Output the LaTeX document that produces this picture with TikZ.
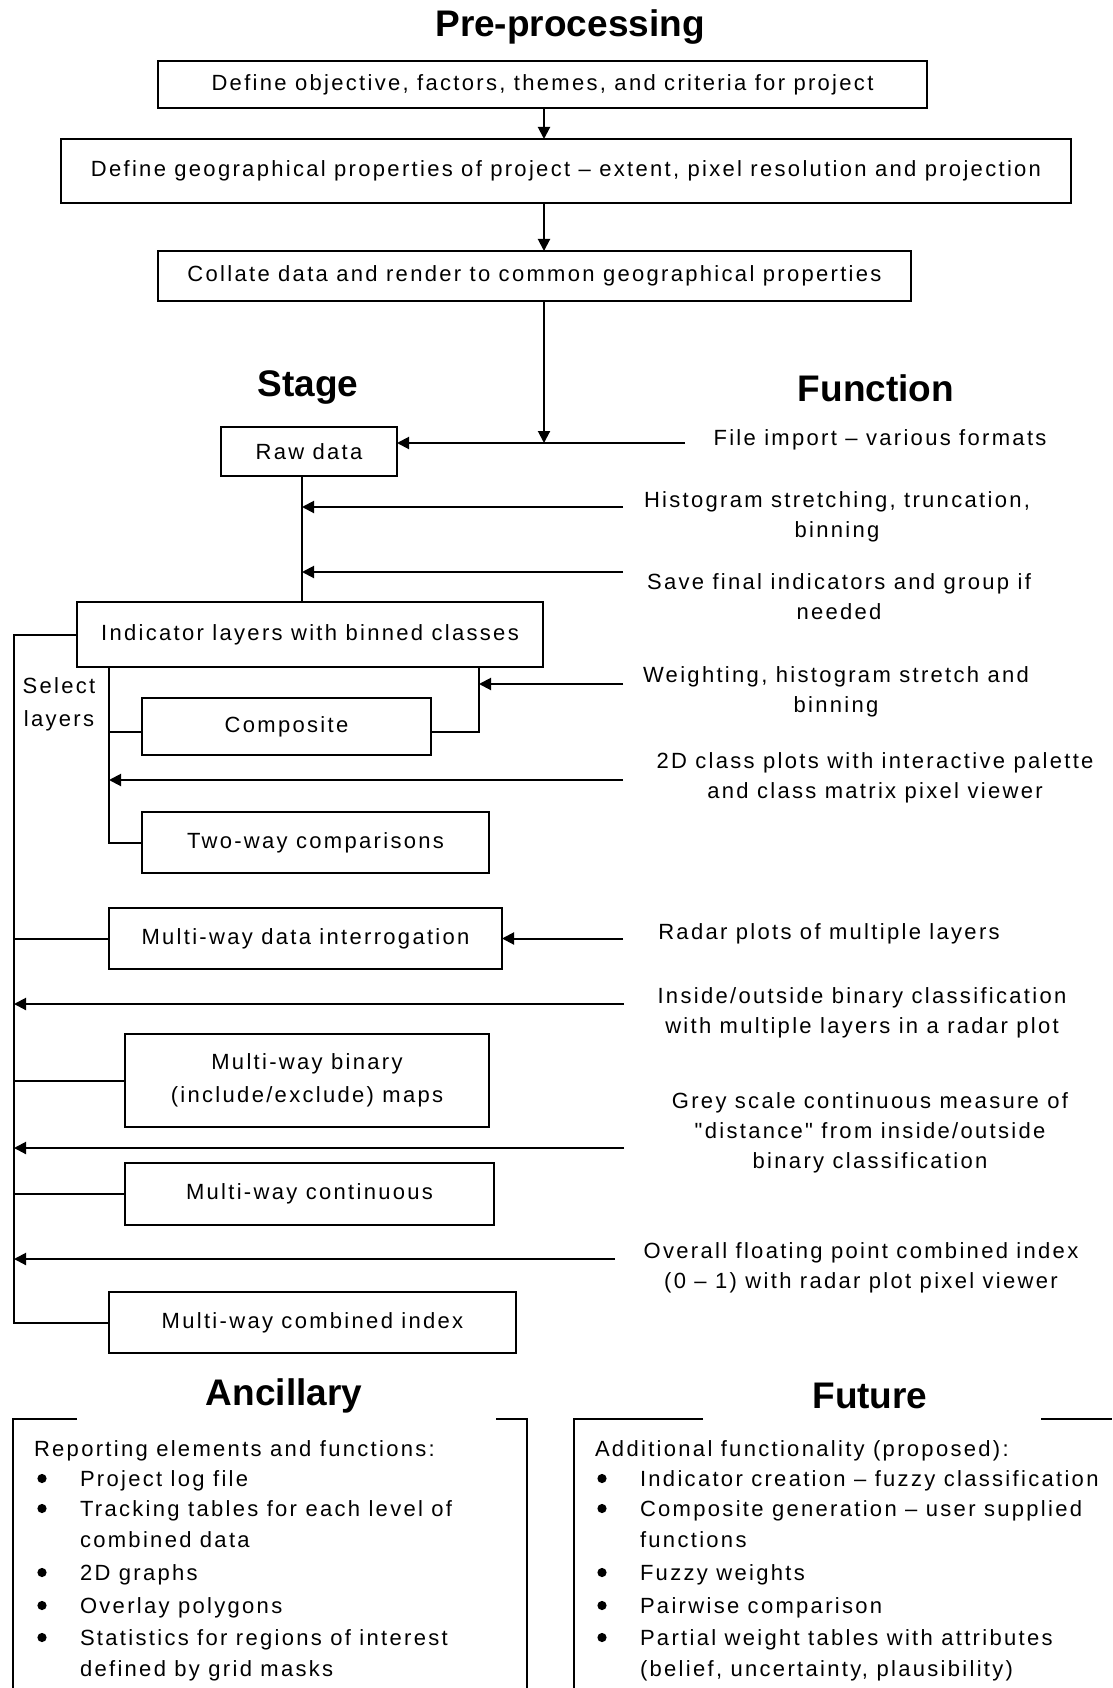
\documentclass[tikz,border=0pt]{standalone}
\usepackage{fontspec}
\setmainfont{Liberation Sans}[LetterSpace=10.5,Ligatures=TeXOff]
\newfontfamily\titlef{Liberation Sans}
\usetikzlibrary{arrows.meta}
\begin{document}
\begin{tikzpicture}[x=1pt,y=-1pt,
  every node/.style={inner sep=0pt,outer sep=0pt},
  txt/.style={font=\fontsize{22}{30}\selectfont,align=center},
  txtb/.style={font=\fontsize{22}{33}\selectfont,align=center},
  box/.style 2 args={draw,line width=2pt,minimum width=#1,minimum height=#2,txt},
  ttl/.style={font=\titlef\bfseries\fontsize{37}{40}\selectfont},
  lst/.style={font=\fontsize{22}{30}\selectfont,anchor=base west},
  bul/.style={fill=black},
  conn/.style={line width=2pt},
  thin/.style={line width=1.3pt},
  arr/.style={line width=2pt,-{Triangle[length=12pt,width=12pt]}},
  frame/.style={line width=1.6pt}]
\useasboundingbox (0,0) rectangle (1112,1688);

% ---------- pre-processing ----------
\node[ttl] (tpre) at (570,27) {Pre-processing};
\node[box={769pt}{47pt}] (b1) at (542.5,84.5) {Define objective, factors, themes, and criteria for project};
\node[box={1010pt}{64pt}] (b2) at (566,171) {Define geographical properties of project – extent, pixel resolution and projection};
\node[box={753pt}{50pt}] (b3) at (534.5,276) {Collate data and render to common geographical properties};
\coordinate (cx) at (544,0);
\coordinate (jn) at (544,443);
\draw[arr] (b1.south -| cx) -- (b2.north -| cx);
\draw[arr] (b2.south -| cx) -- (b3.north -| cx);
\draw[arr] (b3.south -| cx) -- (jn);

% ---------- headings ----------
\node[ttl] (tstage) at (308,388) {Stage};
\node[ttl] (tfunc) at (876,388) {Function};

% ---------- stages ----------
\node[box={176pt}{49pt}] (raw) at (309,451.5) {Raw data};
\node[box={466pt}{65pt}] (ind) at (310,634.5) {Indicator layers with binned classes};
\node[box={289pt}{57pt}] (cmp) at (286.5,726.5) {Composite};
\node[box={347pt}{61pt}] (two) at (315.5,842.5) {Two-way comparisons};
\node[box={393pt}{61pt}] (mwd) at (305.5,938.5) {Multi-way data interrogation};
\node[box={364pt}{93pt},txtb] (bin) at (307,1080.5) {Multi-way binary\\(include/exclude) maps};
\node[box={369pt}{62pt}] (cnt) at (309.5,1194) {Multi-way continuous};
\node[box={407pt}{61pt}] (cmb) at (312.5,1322.5) {Multi-way combined index};
\node[txtb] (sel) at (59,704) {Select\\layers};

% ---------- functions ----------
\node[txt] (f1) at (880,440) {File import – various formats};
\node[txt] (f2) at (837,517) {Histogram stretching, truncation,\\binning};
\node[txt] (f3) at (839,596.5) {Save final indicators and group if\\needed};
\node[txt] (f4) at (836,692) {Weighting, histogram stretch and\\binning};
\node[txt] (f5) at (875,778) {2D class plots with interactive palette\\and class matrix pixel viewer};
\node[txt] (f6) at (829,934) {Radar plots of multiple layers};
\node[txt] (f7) at (862,1012.5) {Inside/outside binary classification\\with multiple layers in a radar plot};
\node[txt] (f8) at (870,1132.5) {Grey scale continuous measure of\\"distance" from inside/outside\\binary classification};
\node[txt] (f9) at (861,1268) {Overall floating point combined index\\(0 – 1) with radar plot pixel viewer};

% ---------- connectors ----------
\coordinate (vx) at (302,0);
\coordinate (mx) at (14,0);
\coordinate (ix) at (109,0);
\coordinate (rx) at (479,0);
\coordinate (cy) at (0,732);
\coordinate (s1) at (685,443);
\coordinate (s2) at (623,507);
\coordinate (s3) at (623,572);
\coordinate (s4) at (623,684);
\coordinate (s5) at (623,780);
\coordinate (s6) at (623,938.5);
\coordinate (s7) at (624,1004);
\coordinate (s8) at (624,1148);
\coordinate (s9) at (615,1259);

\draw[arr] (s1) -- (raw.east |- s1);
\draw[thin] (raw.south -| vx) -- (ind.north -| vx);
\draw[arr] (s2) -- (s2 -| vx);
\draw[arr] (s3) -- (s3 -| vx);
\draw[conn] (ind.west) -- (ind.west -| mx) -- (mx |- cmb.west) -- (cmb.west);
\draw[conn] (ind.south -| ix) -- (two.west -| ix) -- (two.west);
\draw[conn] (ix |- cy) -- (cmp.west |- cy);
\draw[conn] (ind.south -| rx) -- (rx |- cy) -- (cmp.east |- cy);
\draw[arr] (s4) -- (s4 -| rx);
\draw[arr] (s5) -- (s5 -| ix);
\draw[conn] (mx |- mwd.west) -- (mwd.west);
\draw[arr] (s6) -- (mwd.east);
\draw[arr] (s7) -- (s7 -| mx);
\draw[conn] (mx |- bin.west) -- (bin.west);
\draw[arr] (s8) -- (s8 -| mx);
\draw[conn] (mx |- cnt.west) -- (cnt.west);
\draw[arr] (s9) -- (s9 -| mx);

% ---------- ancillary / future ----------
\node[ttl] (tanc) at (284,1396) {Ancillary};
\node[ttl] (tfut) at (870,1396) {Future};
\draw[frame] (77,1419) -- (13,1419) -- (13,1688);
\draw[frame] (496,1419) -- (527,1419) -- (527,1688);
\draw[frame] (703,1419) -- (574,1419) -- (574,1688);
\draw[frame] (1041,1419) -- (1112,1419);

\node[lst] (a0) at (34,1456.5) {Reporting elements and functions:};
\node[lst] (a1) at (80,1486.5) {Project log file};
\node[lst] (a2) at (80,1516.5) {Tracking tables for each level of};
\node[lst] (a2b) at (80,1547.5) {combined data};
\node[lst] (a3) at (80,1580.5) {2D graphs};
\node[lst] (a4) at (80,1613.5) {Overlay polygons};
\node[lst] (a5) at (80,1645.5) {Statistics for regions of interest};
\node[lst] (a5b) at (80,1676.5) {defined by grid masks};
\foreach \yy in {1486.5,1516.5,1580.5,1613.5,1645.5}{
  \fill[bul] (42,\yy-8) circle (4.6pt);
  \fill[bul] (602,\yy-8) circle (4.6pt);
}

\node[lst] (u0) at (595,1456.5) {Additional functionality (proposed):};
\node[lst] (u1) at (640,1486.5) {Indicator creation – fuzzy classification};
\node[lst] (u2) at (640,1516.5) {Composite generation – user supplied};
\node[lst] (u2b) at (640,1547.5) {functions};
\node[lst] (u3) at (640,1580.5) {Fuzzy weights};
\node[lst] (u4) at (640,1613.5) {Pairwise comparison};
\node[lst] (u5) at (640,1645.5) {Partial weight tables with attributes};
\node[lst] (u5b) at (640,1676.5) {(belief, uncertainty, plausibility)};
\end{tikzpicture}
\end{document}
